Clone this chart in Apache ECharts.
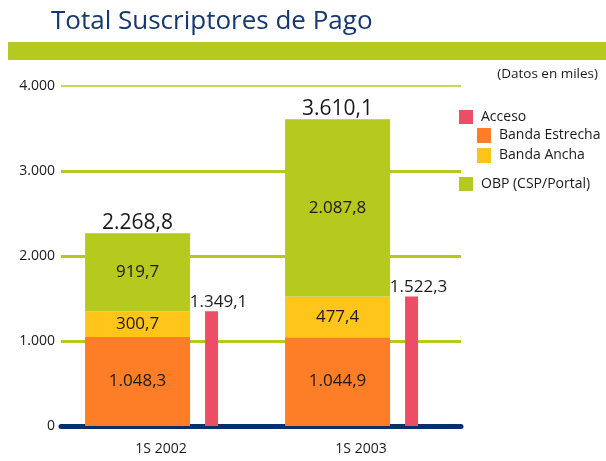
<!DOCTYPE html>
<html>
<head>
<meta charset="utf-8">
<script src="https://cdn.jsdelivr.net/npm/echarts@6/dist/echarts.min.js"></script>
<style>
    html, body { margin: 0; padding: 0; background: #fff; }
    #main { width: 606px; height: 461px; }
</style>
</head>
<body>
<div id="main"></div>
<script>
    // datos (miles)
    var periodos = ['1S 2002', '1S 2003'];
    var bandaEstrecha = [1048.3, 1044.9];
    var bandaAncha = [300.7, 477.4];
    var obp = [919.7, 2087.8];
    var totales = [2268.8, 3610.1];
    var acceso = [1349.1, 1522.3];

    var verde = '#b6c91f';
    var naranja = '#fd7e27';
    var amarillo = '#ffc51a';
    var rosa = '#ee4e65';
    var azul = '#062f6b';
    var fuente = '"Open Sans", sans-serif';

    // 1048.3 -> "1.048,3"
    function fmt(v, dec)
    {
        var s = v.toFixed(dec);
        var partes = s.split('.');
        var ent = partes[0].replace(/\B(?=(\d{3})+(?!\d))/g, '.');
        return partes.length > 1 ? ent + ',' + partes[1] : ent;
    }

    var etiquetaDentro = {
        show: true,
        position: 'inside',
        fontFamily: fuente,
        fontSize: 17,
        color: '#1a1a1a',
        formatter: function (p) { return fmt(p.value, 1); }
    };
    var textoLeyenda = { fontFamily: fuente, fontSize: 14, color: '#1a1a1a', padding: [0, 0, 0, 3] };

    var myChart = echarts.init(document.getElementById('main'));
    var option = {
        animation: false,
        title: [{
            text: 'Total Suscriptores de Pago',
            left: 46,
            top: 4,
            textStyle: { fontFamily: fuente, fontSize: 26, fontWeight: 'normal', color: '#17386e' }
        }, {
            text: '(Datos en miles)',
            right: 3,
            top: 62,
            textStyle: { fontFamily: fuente, fontSize: 13.5, fontWeight: 'normal', color: '#1a1a1a' }
        }],
        graphic: [{
            type: 'rect',
            shape: { x: 8, y: 42, width: 598, height: 18 },
            style: { fill: verde }
        }],
        legend: [{
            data: ['Acceso'],
            left: 459, top: 110, padding: 0,
            itemWidth: 14, itemHeight: 14, icon: 'rect',
            textStyle: textoLeyenda
        }, {
            data: ['Banda Estrecha', 'Banda Ancha'],
            orient: 'vertical',
            left: 477, top: 128, padding: 0, itemGap: 5,
            itemWidth: 14, itemHeight: 15, icon: 'rect',
            textStyle: textoLeyenda
        }, {
            data: ['OBP (CSP/Portal)'],
            left: 459, top: 177, padding: 0,
            itemWidth: 14, itemHeight: 14, icon: 'rect',
            textStyle: textoLeyenda
        }],
        grid: { left: 61, top: 86, width: 400, bottom: 35 },
        xAxis: {
            type: 'category',
            data: periodos,
            axisLine: { lineStyle: { color: azul, width: 5 } },
            axisTick: { show: false },
            axisLabel: { fontFamily: fuente, fontSize: 14, color: '#1a1a1a', margin: 16 }
        },
        yAxis: {
            type: 'value',
            min: 0,
            max: 4000,
            interval: 1000,
            axisLine: { show: false },
            axisTick: { show: false },
            axisLabel: {
                fontFamily: fuente, fontSize: 14, color: '#1a1a1a', margin: 6,
                formatter: function (v) { return fmt(v, 0); }
            },
            splitLine: { showMaxLine: false, lineStyle: { color: verde, width: 3 } }
        },
        series: [{
            name: 'Banda Estrecha',
            type: 'bar',
            stack: 'total',
            barWidth: 105,
            barGap: '14.2857%',
            data: bandaEstrecha,
            itemStyle: { color: naranja },
            label: etiquetaDentro
        }, {
            name: 'Banda Ancha',
            type: 'bar',
            stack: 'total',
            barWidth: 105,
            data: bandaAncha,
            itemStyle: { color: amarillo },
            label: etiquetaDentro
        }, {
            name: 'OBP (CSP/Portal)',
            type: 'bar',
            stack: 'total',
            barWidth: 105,
            data: obp,
            itemStyle: { color: verde },
            label: etiquetaDentro
        }, {
            // solo para la etiqueta del total encima de la pila
            name: 'Total',
            type: 'bar',
            stack: 'total',
            barWidth: 105,
            data: [0, 0],
            itemStyle: { color: 'transparent' },
            label: {
                show: true,
                position: 'top',
                distance: 0,
                fontFamily: fuente,
                fontSize: 21,
                color: '#1a1a1a',
                formatter: function (p) { return fmt(totales[p.dataIndex], 1); }
            }
        }, {
            name: 'Acceso',
            type: 'bar',
            barWidth: 13,
            barGap: '14.2857%',
            data: acceso,
            itemStyle: { color: rosa },
            label: {
                show: true,
                position: 'top',
                distance: 1,
                offset: [7, 0],
                fontFamily: fuente,
                fontSize: 17,
                color: '#1a1a1a',
                formatter: function (p) { return fmt(p.value, 1); }
            }
        }, {
            // columna vacia para desplazar el grupo a la izquierda
            name: 'hueco',
            type: 'bar',
            barWidth: 17,
            barGap: '14.2857%',
            silent: true,
            data: [0, 0],
            itemStyle: { color: 'transparent' },
            markLine: {
                silent: true,
                symbol: 'none',
                label: { show: false },
                lineStyle: { color: verde, width: 1.5, type: 'solid' },
                data: [{ yAxis: 4000 }]
            }
        }]
    };
    myChart.setOption(option, true);
</script>
</body>
</html>
